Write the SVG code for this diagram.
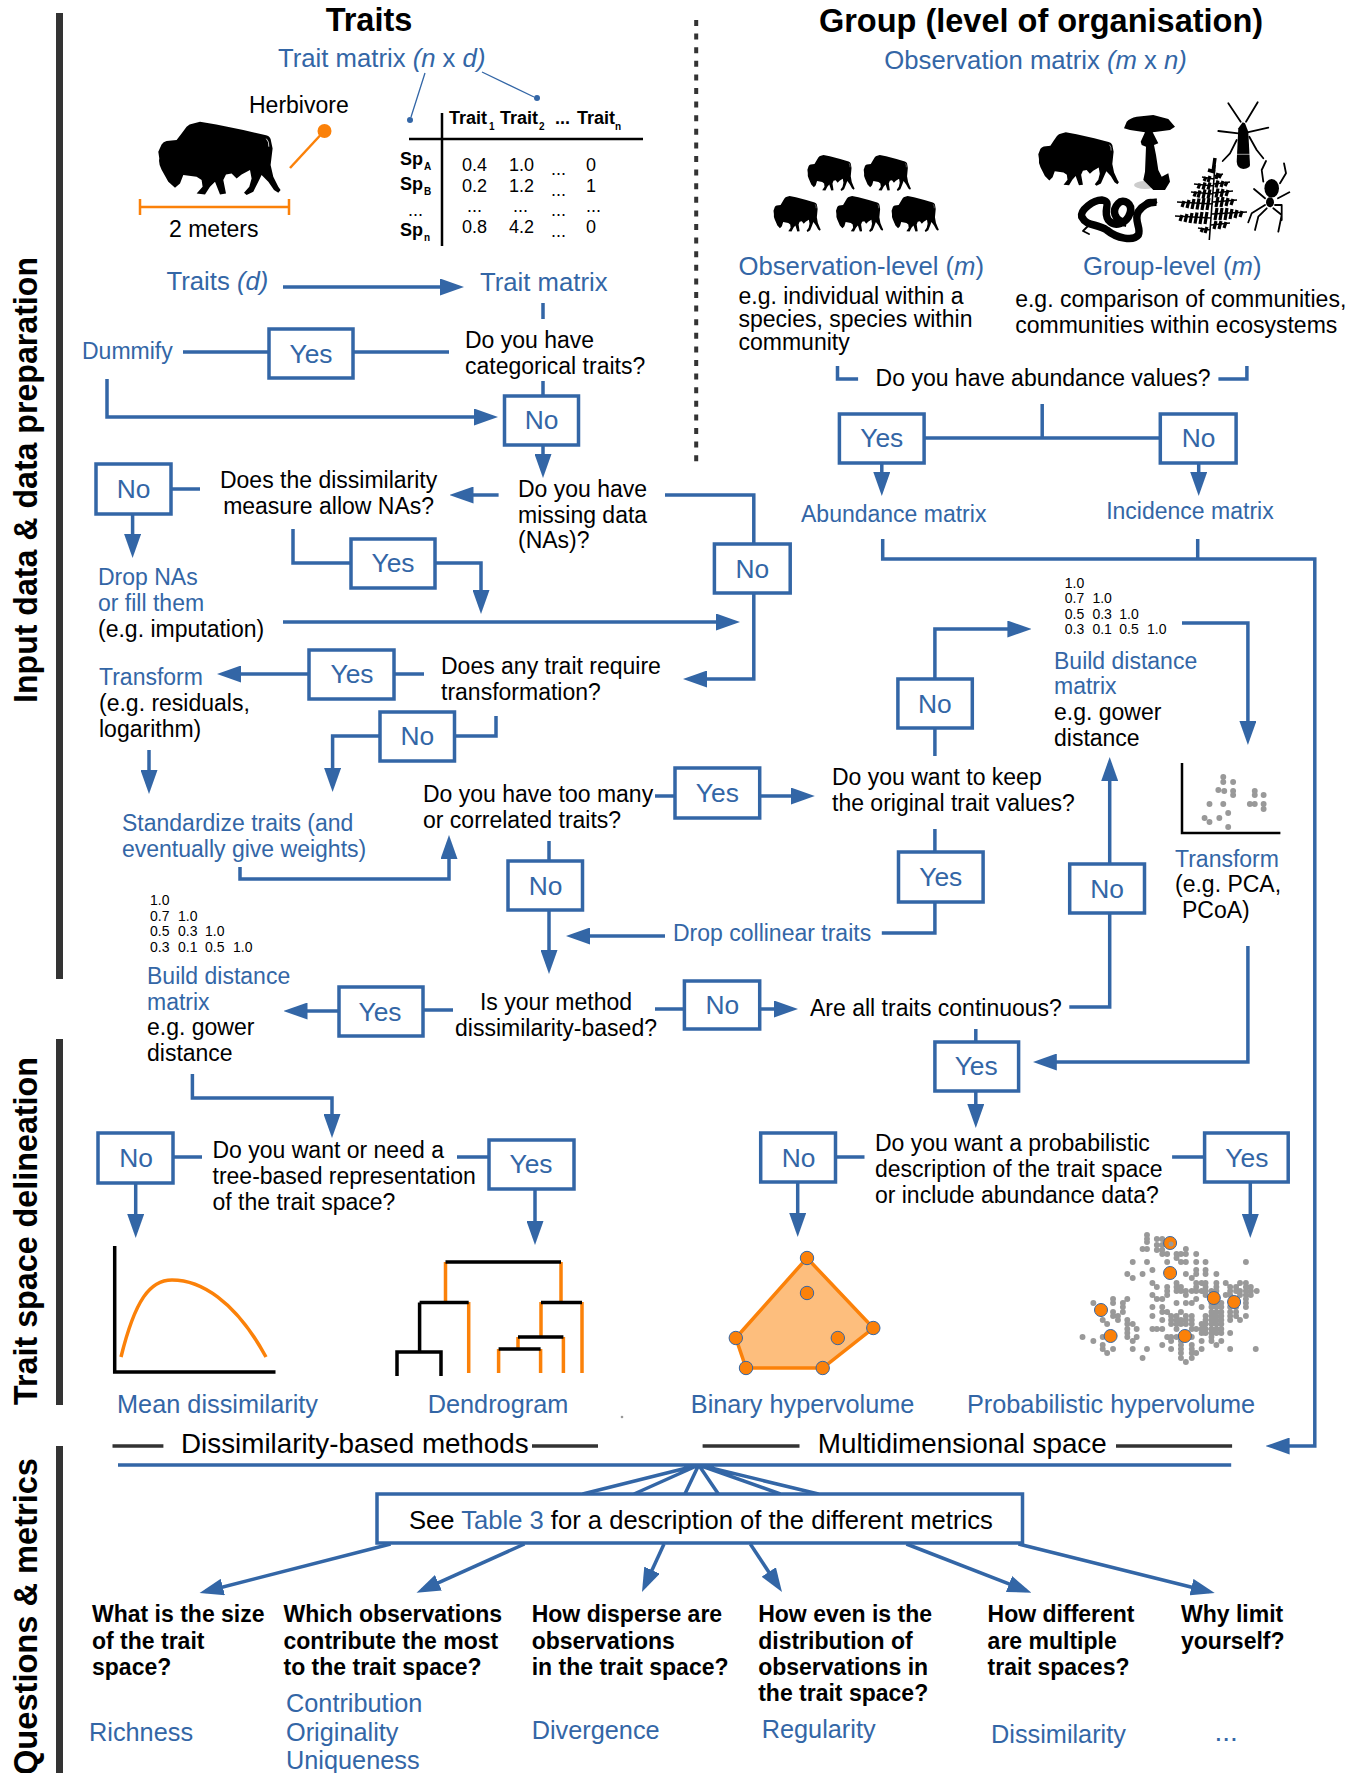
<svg xmlns="http://www.w3.org/2000/svg" width="1369" height="1773" viewBox="0 0 1369 1773">
<style>
text{font-family:"Liberation Sans",Arial,sans-serif;fill:#000}
.t{font-size:23px}
.f{font-size:23px;fill:#3366a6}
.h{font-size:25.7px;fill:#3366a6}
.s{font-size:25.3px}
.i{font-style:italic}
.q{font-size:23px;font-weight:700}
.title{font-size:32.5px;font-weight:700;text-anchor:middle}
.sec{font-size:34px;font-weight:700}
.m{font-size:27.8px}
.lb{font-size:26.4px;fill:#3366a6;text-anchor:middle}
.box{fill:#fff;stroke:#3366a6;stroke-width:3.5}
.c{fill:none;stroke:#3366a6;stroke-width:3.5}
.a{marker-end:url(#ah)}
.rule{fill:none;stroke:#333;stroke-width:3.5}
.bar{fill:#333}
.val{font-size:18px}
.sb{font-size:18px;font-weight:700}
.sub{font-size:10px;font-weight:700}
.mini{font-size:14px}
.or{fill:none;stroke:#fb8109;stroke-width:3.5}
.k{fill:none;stroke:#000;stroke-width:3.5}
.dot{fill:#fb8109;stroke:#3366a6;stroke-width:1}
.gray{fill:none;stroke:#999;stroke-width:6;stroke-linecap:round}
.leg{fill:none;stroke:#000;stroke-width:1.8;stroke-linecap:round;stroke-linejoin:round}
</style>
<defs>
<marker id="ah" markerUnits="userSpaceOnUse" markerWidth="24" markerHeight="17" viewBox="0 0 24 17" refX="18" refY="8.5" orient="auto"><path d="M0 0L24 8.5L0 17z" fill="#3366a6"/></marker>
<g id="bison">
<path d="M16.7 66L10 60L3.3 48Q0 42 1 36.7L0 30L3.3 22.7Q5 20 8.3 19.3L18.3 18.3L23.3 11.7L28.3 5Q31 2 35 1.7L41.7 0L58 2.7L85 8.3L106.7 13.3Q111 14 112.3 17.3L114.3 26.7L113.3 35L112.3 43.3L115 55L120 65L122.3 68.3L120 71L115.7 68.3L110 60L103.3 53.3L100 60L95 70L88.3 73.3L85.7 71L91 65L93.3 56.7L91.7 48.3L83.3 52.7L78.3 56.7L73.3 51.7L67.7 52.7L65 58.3L67.7 71.7L61.7 72.7L56.7 60L51.7 65L46.7 72.7L38.3 71.7L44.3 65L43.3 58.3L38.3 55L25 53.3L21.7 61.7z"/>
<path d="M108 17Q111 20 110.5 25" fill="none" stroke="#fff" stroke-width=".8"/>
</g>
</defs>

<g id="section-labels">
<rect class="bar" x="56" y="13" width="7" height="966"/>
<rect class="bar" x="56" y="1039" width="7" height="366"/>
<rect class="bar" x="56" y="1446" width="7" height="327"/>
<text class="sec" transform="translate(37 703) rotate(-90)" textLength="446" lengthAdjust="spacingAndGlyphs">Input data &amp; data preparation</text>
<text class="sec" transform="translate(37 1405) rotate(-90)" textLength="348" lengthAdjust="spacingAndGlyphs">Trait space delineation</text>
<text class="sec" transform="translate(37 1775) rotate(-90)" textLength="317" lengthAdjust="spacingAndGlyphs">Questions &amp; metrics</text>
</g>

<g id="connectors">
<path class="c a" d="M283 287H458"/>
<path class="c" d="M543 303V319M183 352H269M353 352H449M543 381V396"/>
<path class="c a" d="M107 379V417H492"/>
<path class="c a" d="M543 445V472"/>
<path class="c a" d="M498.6 495H455.5"/>
<path class="c" d="M171 489H200"/>
<path class="c a" d="M132.6 514V552"/>
<path class="c" d="M665 495H753.8V544"/>
<path class="c a" d="M753.8 593V679H689"/>
<path class="c" d="M293 529V563H351"/>
<path class="c a" d="M435 563H481V608"/>
<path class="c a" d="M283 622H734"/>
<path class="c a" d="M309 674H223"/>
<path class="c" d="M394 674H424M496 716V736H454.5"/>
<path class="c a" d="M380 736H332.6V786"/>
<path class="c a" d="M149 750V788"/>
<path class="c a" d="M240 867V879H449V841"/>
<path class="c" d="M549 841V861"/>
<path class="c a" d="M549 910V968"/>
<path class="c" d="M655 796H675"/>
<path class="c a" d="M759.7 796H808.8"/>
<path class="c a" d="M665 936H572"/>
<path class="c" d="M881.8 933H934.9V902M934.9 829V852M423 1010H453"/>
<path class="c a" d="M339 1011H289.5"/>
<path class="c" d="M655 1009H684.4"/>
<path class="c a" d="M759.7 1009H792"/>
<path class="c" d="M1069.3 1007H1109.7V913"/>
<path class="c a" d="M1109.7 864V763"/>
<path class="c" d="M934.9 728V756"/>
<path class="c a" d="M934.9 679V629H1025.4"/>
<path class="c a" d="M1182 623H1247.9V739"/>
<path class="c a" d="M1247.9 946V1062H1038.8"/>
<path class="c" d="M975.8 1029V1042"/>
<path class="c a" d="M975.8 1091V1122"/>
<path class="c" d="M837.5 366V379H858.1M1218.4 379H1246.9V366M1042.2 404V438M924.1 438H1160.3"/>
<path class="c a" d="M881.8 463V490"/>
<path class="c a" d="M1198.7 463V490"/>
<path class="c a" d="M882.7 539V559H1314.8V1446H1271.6"/>
<path class="c" d="M1197.7 539V559"/>
<path class="c a" d="M192.4 1074V1098H332V1132"/>
<path class="c" d="M173 1157H202M457 1157H489"/>
<path class="c a" d="M135.7 1183V1232"/>
<path class="c a" d="M535 1189V1239"/>
<path class="c" d="M835.5 1157H864.5M1172.1 1157H1204.6"/>
<path class="c a" d="M797.7 1182V1231"/>
<path class="c a" d="M1250.3 1182V1232"/>
<path class="c" d="M118 1465H1231.2M698.7 1465L582.6 1494M698.7 1465L634 1494M698.7 1465L684.9 1494M698.7 1465L718.4 1494M698.7 1465L780.4 1494M698.7 1465L818.4 1494"/>
<path class="c a" d="M390.6 1544L205.4 1591.5"/>
<path class="c a" d="M524.5 1544L422 1590.2"/>
<path class="c a" d="M664 1544L644.5 1586.5"/>
<path class="c a" d="M750.3 1544L778.7 1587"/>
<path class="c a" d="M906.4 1544L1025.8 1590.5"/>
<path class="c a" d="M1018.4 1544L1208.9 1591.5"/>
</g>

<g id="divider"><path d="M696.2 20V463" fill="none" stroke="#333" stroke-width="4" stroke-dasharray="6 7.6"/></g>

<g id="title-traits"><text class="title" x="369" y="31">Traits</text></g>
<g id="title-group"><text class="title" x="1041" y="32">Group (level of organisation)</text></g>
<g id="trait-matrix-title">
<text class="h" x="278" y="67">Trait matrix <tspan class="i">(n</tspan> x <tspan class="i">d)</tspan></text>
<path d="M425 73L411 117M482 72L534 97" fill="none" stroke="#3366a6" stroke-width="1.3"/>
<circle cx="410" cy="120" r="3" fill="#3366a6"/><circle cx="537" cy="98" r="3" fill="#3366a6"/>
</g>
<g id="observation-matrix-title"><text class="h" x="884.3" y="69">Observation matrix <tspan class="i">(m</tspan> x <tspan class="i">n)</tspan></text></g>

<g id="herbivore">
<use href="#bison" transform="translate(158.3 121.7)"/>
<text class="t" x="249" y="113">Herbivore</text>
<path d="M290 168L320.5 135" fill="none" stroke="#fb8109" stroke-width="2.5"/>
<circle cx="324.5" cy="131" r="7" fill="#fb8109"/>
<path d="M140 207H289M140 199V215M289 199V215" fill="none" stroke="#fb8109" stroke-width="2.5"/>
<text class="t" x="169" y="237">2 meters</text>
</g>

<g id="trait-table">
<path d="M442 113V246M409 139H643" fill="none" stroke="#000" stroke-width="2.5"/>
<text class="sb" x="449" y="124">Trait</text><text class="sub" x="489" y="130">1</text>
<text class="sb" x="500" y="124">Trait</text><text class="sub" x="539" y="130">2</text>
<text class="sb" x="555" y="124">...</text>
<text class="sb" x="577" y="124">Trait</text><text class="sub" x="615" y="130">n</text>
<text class="sb" x="400" y="165">Sp</text><text class="sub" x="424" y="170">A</text>
<text class="sb" x="400" y="190">Sp</text><text class="sub" x="424" y="195">B</text>
<text class="val" x="408" y="216">...</text>
<text class="sb" x="400" y="236">Sp</text><text class="sub" x="424" y="241">n</text>
<text class="val" x="462" y="171">0.4</text><text class="val" x="509" y="171">1.0</text><text class="val" x="551" y="175">...</text><text class="val" x="586" y="171">0</text>
<text class="val" x="462" y="192">0.2</text><text class="val" x="509" y="192">1.2</text><text class="val" x="551" y="196">...</text><text class="val" x="586" y="192">1</text>
<text class="val" x="467" y="212">...</text><text class="val" x="513" y="212">...</text><text class="val" x="551" y="216">...</text><text class="val" x="586" y="212">...</text>
<text class="val" x="462" y="233">0.8</text><text class="val" x="509" y="233">4.2</text><text class="val" x="551" y="237">...</text><text class="val" x="586" y="233">0</text>
</g>

<g id="bison-herd">
<use href="#bison" transform="translate(807.4 155) scale(.386 .49)"/>
<use href="#bison" transform="translate(863.7 155) scale(.386 .49)"/>
<use href="#bison" transform="translate(773.5 196) scale(.386 .49)"/>
<use href="#bison" transform="translate(836 196) scale(.386 .49)"/>
<use href="#bison" transform="translate(891.6 196) scale(.386 .49)"/>
</g>

<g id="species-group">
<use href="#bison" transform="translate(1038.3 132.3) scale(.659 .73)"/>
<g id="mushroom">
<ellipse cx="1145" cy="185" rx="11" ry="4" fill="#ccc"/>
<path d="M1124 128.3L1126.7 121.7Q1130 118 1136.7 116.7L1153.3 115L1168.3 119L1175 126.7L1170 130L1156.7 131.7L1152.7 132.3L1158.3 143.3L1154 145L1156 155L1158.3 170L1161.7 176.7L1168.3 173.3L1170 181.7L1165 190L1153.3 190L1143.3 180L1145 171.7L1146 146.7L1141.7 145L1140.7 141.7L1145 132.3L1130 130z"/>
</g>
<g id="insect">
<path d="M1242.7 122.3L1238.3 128.3L1236.7 161.7Q1237 168 1243.3 169Q1250 168 1250 165L1248.3 131.7L1245 123.3z"/>
<path d="M1237 154.3H1250" stroke="#fff" stroke-width=".6"/>
<path class="leg" d="M1240.7 121.7L1228.3 103.3M1246 121.7L1257.7 102.3M1238.3 133.3L1218.3 131M1247.3 132.3L1268.3 127.7M1236.7 140L1230 153.3L1222.7 161M1249.3 136.7L1256.7 150L1263.3 158.3"/>
</g>
<g id="fern" fill="none" stroke="#000">
<path stroke-width="1.6" d="M1215 165L1209.3 240M1213 204L1177 202M1211 218L1175 216M1213 194L1191 192M1214 186L1194 184M1214 179L1202 177M1210 230L1198 228M1213 202L1237 200M1212 214L1247 212M1213 193L1233 191M1214 184L1230 182M1214 176L1223 174M1211 225L1230 223"/>
<path stroke-width="3.5" d="M1215 158L1213 172M1215 172L1208 170"/>
<path stroke-width="3.2" d="M1209 198L1207 210M1204 198L1202 210M1199 198.5L1197 209.5M1194 199L1192 209M1189 200L1187 208M1184 201L1182 207M1207 212L1205 224M1202 212L1200 224M1197 212.5L1195 223.5M1192 213L1190 223M1187 214L1185 222M1182 215L1180 221M1210 189.5L1208 198.5M1205 189.5L1203 198.5M1200 190.5L1198 197.5M1196 191.5L1194 196.5M1210 182.5L1208 189.5M1205 182.5L1203 189.5M1200 183.5L1198 188.5M1210 176L1208 182M1206 177L1204 181M1207 227L1205 233M1203 228L1201 232M1218 197L1216 207M1223 197L1221 207M1228 198L1226 206M1233 199L1231 205M1217 208L1215 220M1222 208L1220 220M1227 208L1225 220M1232 209L1230 219M1237 210L1235 218M1242 211L1240 217M1218 188.5L1216 197.5M1223 189L1221 197M1228 190L1226 196M1218 180.5L1216 187.5M1223 181L1221 187M1227 182L1225 186M1218 173L1216 179M1221 174L1219 178M1216 221L1214 229M1221 221L1219 229M1226 222L1224 228"/>
</g>
<g id="snake">
<path fill="none" stroke="#000" stroke-width="7.5" d="M1156.7 202.3C1146.7 201.7 1141.7 206.7 1138.3 211.7C1133.3 220 1141.7 228.3 1138.3 235C1133.3 241.7 1116.7 238.3 1106.7 230C1096.7 223.3 1086.7 226.7 1081.7 216.7C1080 210 1093.3 200 1101.7 200C1113.3 201.7 1101.7 210 1108.3 220C1115 228.3 1126.7 223.3 1130 213.3C1133.3 203.3 1123.3 198.3 1118.3 203.3C1111.7 210 1113.3 220 1126.7 223.3"/>
<ellipse cx="1150.7" cy="202.3" rx="6.5" ry="3.5"/>
<path class="leg" d="M1088 226L1083 231L1089 234"/>
</g>
<g id="spider">
<ellipse cx="1271.7" cy="188.3" rx="7.3" ry="9.3"/><ellipse cx="1270" cy="202.3" rx="4" ry="5"/>
<path class="leg" d="M1263.3 181.7L1261.7 170L1266 161M1280 183.3L1286 173.3L1284 163.3M1265 198.3L1254 189M1278 198.3L1289.3 192.3M1265 205L1251.7 213.3L1248.3 222.3M1266.7 208.3L1258.3 216.7L1255 230M1273.3 208.3L1281.7 215L1278.3 231.7M1275 205L1281.7 205L1281.7 220"/>
</g>
</g>

<g id="observation-level">
<text class="h" x="738.5" y="275">Observation-level (<tspan class="i">m</tspan>)</text>
<text class="t" x="738.5" y="304">e.g. individual within a</text>
<text class="t" x="738.5" y="327">species, species within</text>
<text class="t" x="738.5" y="350">community</text>
</g>
<g id="group-level">
<text class="h" x="1083" y="275">Group-level (<tspan class="i">m</tspan>)</text>
<text class="t" x="1015.2" y="307">e.g. comparison of communities,</text>
<text class="t" x="1015.2" y="333">communities within ecosystems</text>
</g>
<g id="q-abundance"><text class="t" x="875.6" y="386">Do you have abundance values?</text></g>

<g id="traits-d"><text class="h" x="166.5" y="290">Traits <tspan class="i">(d)</tspan></text></g>
<g id="trait-matrix"><text class="h" x="480" y="291">Trait matrix</text></g>
<g id="dummify"><text class="f" x="82" y="359">Dummify</text></g>
<g id="q-categorical"><text class="t" x="465" y="348">Do you have</text><text class="t" x="465" y="374">categorical traits?</text></g>
<g id="q-nas"><text class="t" x="328.6" y="488" text-anchor="middle">Does the dissimilarity</text><text class="t" x="328.6" y="514" text-anchor="middle">measure allow NAs?</text></g>
<g id="q-missing"><text class="t" x="518" y="497">Do you have</text><text class="t" x="518" y="523">missing data</text><text class="t" x="518" y="548">(NAs)?</text></g>
<g id="drop-nas"><text class="f" x="98" y="585">Drop NAs</text><text class="f" x="98" y="611">or fill them</text><text class="t" x="98" y="637">(e.g. imputation)</text></g>
<g id="transform-left"><text class="f" x="99" y="685">Transform</text><text class="t" x="99" y="711">(e.g. residuals,</text><text class="t" x="99" y="737">logarithm)</text></g>
<g id="q-transformation"><text class="t" x="441" y="674">Does any trait require</text><text class="t" x="441" y="700">transformation?</text></g>
<g id="standardize"><text class="f" x="122" y="831">Standardize traits (and</text><text class="f" x="122" y="857">eventually give weights)</text></g>
<g id="q-too-many"><text class="t" x="423" y="802">Do you have too many</text><text class="t" x="423" y="828">or correlated traits?</text></g>
<g id="q-keep"><text class="t" x="832" y="785">Do you want to keep</text><text class="t" x="832" y="811">the original trait values?</text></g>
<g id="drop-collinear"><text class="f" x="673" y="941">Drop collinear traits</text></g>
<g id="build-left">
<text class="mini" x="150" y="905">1.0</text>
<text class="mini" y="921"><tspan x="150">0.7</tspan><tspan x="178">1.0</tspan></text>
<text class="mini" y="936"><tspan x="150">0.5</tspan><tspan x="178">0.3</tspan><tspan x="205">1.0</tspan></text>
<text class="mini" y="952"><tspan x="150">0.3</tspan><tspan x="178">0.1</tspan><tspan x="205">0.5</tspan><tspan x="233">1.0</tspan></text>
<text class="f" x="147" y="984">Build distance</text><text class="f" x="147" y="1010">matrix</text>
<text class="t" x="147" y="1035">e.g. gower</text><text class="t" x="147" y="1061">distance</text>
</g>
<g id="build-right">
<text class="mini" x="1064.8" y="588">1.0</text>
<text class="mini" y="603"><tspan x="1064.8">0.7</tspan><tspan x="1092.4">1.0</tspan></text>
<text class="mini" y="619"><tspan x="1064.8">0.5</tspan><tspan x="1092.4">0.3</tspan><tspan x="1119.3">1.0</tspan></text>
<text class="mini" y="634"><tspan x="1064.8">0.3</tspan><tspan x="1092.4">0.1</tspan><tspan x="1119.3">0.5</tspan><tspan x="1147">1.0</tspan></text>
<text class="f" x="1054" y="669">Build distance</text><text class="f" x="1054" y="694">matrix</text>
<text class="t" x="1054" y="720">e.g. gower</text><text class="t" x="1054" y="746">distance</text>
</g>
<g id="transform-right">
<path d="M1182 763V833H1280.4" fill="none" stroke="#000" stroke-width="2.5"/>
<path class="gray" transform="translate(10.74 0) scale(.9842 1)" d="M1232 777h0M1232 782h0M1242 782h0M1227 790h0M1233 791h0M1242 791h0M1242 795h0M1264 791h0M1264 795h0M1273 795h0M1218 804h0M1232 804h0M1259 804h0M1264 804h0M1273 804h0M1273 809h0M1213 818h0M1218 822h0M1228 818h0M1237 813h0M1237 827h0"/>
<text class="f" x="1175" y="867">Transform</text><text class="t" x="1175" y="892">(e.g. PCA,</text><text class="t" x="1182" y="918">PCoA)</text>
</g>
<g id="q-dissimilarity"><text class="t" x="556" y="1010" text-anchor="middle">Is your method</text><text class="t" x="556" y="1036" text-anchor="middle">dissimilarity-based?</text></g>
<g id="q-continuous"><text class="t" x="810" y="1016">Are all traits continuous?</text></g>
<g id="q-tree"><text class="t" x="212.5" y="1158">Do you want or need a</text><text class="t" x="212.5" y="1184">tree-based representation</text><text class="t" x="212.5" y="1210">of the trait space?</text></g>
<g id="q-probabilistic"><text class="t" x="874.9" y="1151">Do you want a probabilistic</text><text class="t" x="874.9" y="1177">description of the trait space</text><text class="t" x="874.9" y="1203">or include abundance data?</text></g>
<g id="abundance-matrix"><text class="f" x="801" y="522">Abundance matrix</text></g>
<g id="incidence-matrix"><text class="f" x="1106.2" y="519">Incidence matrix</text></g>

<g id="yes-categorical"><rect class="box" x="269" y="329" width="84" height="49"/><text class="lb" x="311" y="363">Yes</text></g>
<g id="no-categorical"><rect class="box" x="504.5" y="396" width="74" height="49"/><text class="lb" x="541.5" y="429">No</text></g>
<g id="no-nas"><rect class="box" x="96" y="464" width="75" height="50"/><text class="lb" x="133.5" y="498">No</text></g>
<g id="yes-nas"><rect class="box" x="351" y="539" width="84" height="49"/><text class="lb" x="393" y="572">Yes</text></g>
<g id="no-missing"><rect class="box" x="714.4" y="544" width="75.8" height="49"/><text class="lb" x="752.4" y="578">No</text></g>
<g id="yes-transform"><rect class="box" x="309" y="650" width="85" height="49"/><text class="lb" x="352" y="683">Yes</text></g>
<g id="no-transform"><rect class="box" x="380" y="712" width="74.5" height="49"/><text class="lb" x="417.4" y="745">No</text></g>
<g id="yes-too-many"><rect class="box" x="675" y="768" width="84.7" height="50"/><text class="lb" x="717.4" y="802">Yes</text></g>
<g id="no-too-many"><rect class="box" x="508" y="861" width="74.5" height="49"/><text class="lb" x="545.5" y="895">No</text></g>
<g id="yes-dissimilarity"><rect class="box" x="339" y="987" width="84" height="49"/><text class="lb" x="380" y="1021">Yes</text></g>
<g id="no-dissimilarity"><rect class="box" x="684.4" y="981" width="75.3" height="48"/><text class="lb" x="722.3" y="1014">No</text></g>
<g id="yes-keep"><rect class="box" x="898.5" y="852" width="84.6" height="50"/><text class="lb" x="940.8" y="886">Yes</text></g>
<g id="no-keep"><rect class="box" x="897.9" y="679" width="74.4" height="49"/><text class="lb" x="934.9" y="713">No</text></g>
<g id="no-continuous"><rect class="box" x="1069.7" y="864" width="74.8" height="49"/><text class="lb" x="1107" y="898">No</text></g>
<g id="yes-continuous"><rect class="box" x="934.9" y="1042" width="83.7" height="49"/><text class="lb" x="976.2" y="1075">Yes</text></g>
<g id="yes-abundance"><rect class="box" x="839.4" y="414" width="84.7" height="49"/><text class="lb" x="881.8" y="447">Yes</text></g>
<g id="no-abundance"><rect class="box" x="1160.3" y="414" width="75.8" height="49"/><text class="lb" x="1198.7" y="447">No</text></g>
<g id="no-tree"><rect class="box" x="98" y="1133" width="75" height="50"/><text class="lb" x="136" y="1167">No</text></g>
<g id="yes-tree"><rect class="box" x="489" y="1140" width="85" height="49"/><text class="lb" x="531" y="1173">Yes</text></g>
<g id="no-prob"><rect class="box" x="760.7" y="1133" width="74.8" height="49"/><text class="lb" x="798.6" y="1167">No</text></g>
<g id="yes-prob"><rect class="box" x="1204.6" y="1133" width="83.6" height="49"/><text class="lb" x="1246.9" y="1167">Yes</text></g>

<g id="mean-dissimilarity">
<path class="k" d="M114.7 1246V1372H275.5"/>
<path class="or" d="M121 1357C135 1300 150 1280 172 1280C200 1280 235 1300 266 1357"/>
<text class="h s" x="117" y="1413">Mean dissimilarity</text>
</g>
<g id="dendrogram">
<path class="or" d="M445.5 1262V1302M561 1262V1302M468.7 1302V1373M541 1302V1337M582 1302V1373M518 1337V1349M563.4 1337V1373M498.6 1349V1373M540.6 1349V1373"/>
<path class="k" d="M445.5 1262H561M419.6 1302.5H468.7M419.6 1302.5V1352M397 1376V1352H441V1376M541 1302.5H582M518 1337H563.4M498.6 1349H540.6"/>
<text class="h s" x="427.7" y="1413">Dendrogram</text>
</g>
<g id="binary-hypervolume">
<path d="M807 1258L873.3 1328L822.7 1368H746L735.8 1338z" fill="#fdbe7d" stroke="#fb8109" stroke-width="3.5"/>
<circle class="dot" cx="807" cy="1258" r="6.7"/><circle class="dot" cx="807" cy="1293" r="6.7"/><circle class="dot" cx="873.3" cy="1328" r="6.7"/><circle class="dot" cx="837.8" cy="1338" r="6.7"/><circle class="dot" cx="735.8" cy="1338" r="6.7"/><circle class="dot" cx="746" cy="1368" r="6.7"/><circle class="dot" cx="822.7" cy="1368" r="6.7"/>
<text class="h s" x="690.8" y="1413">Binary hypervolume</text>
</g>
<g id="probabilistic-hypervolume">
<path class="gray" transform="translate(10.74 0) scale(.9842 1)" d="M1154.5 1235h0M1154.5 1239h0M1164.5 1239h0M1170 1239h0M1154.5 1242h0M1164.5 1245h0M1170 1245h0M1150 1249h0M1154.5 1249h0M1194 1249h0M1164.5 1250h0M1170 1250h0M1170 1254h0M1175 1254h0M1184.5 1254h0M1189 1254h0M1194 1254h0M1204.5 1254h0M1184.5 1258h0M1140 1262h0M1154.5 1262h0M1175 1262h0M1189 1262h0M1194 1262h0M1204.5 1262h0M1214 1262h0M1255 1262h0M1160 1270h0M1204.5 1270h0M1214 1270h0M1150 1274h0M1134.5 1274h0M1194 1274h0M1204.5 1274h0M1214 1274h0M1225 1274h0M1140 1278h0M1200 1278h0M1160 1283h0M1184.5 1283h0M1204.5 1283h0M1210 1283h0M1214 1283h0M1225 1283h0M1234.5 1283h0M1249 1283h0M1255 1283h0M1164.5 1287h0M1175 1287h0M1184.5 1287h0M1189 1287h0M1204.5 1287h0M1214 1287h0M1225 1287h0M1239 1287h0M1245 1287h0M1255 1287h0M1260 1287h0M1175 1291h0M1184.5 1291h0M1189 1291h0M1194 1291h0M1200 1291h0M1204.5 1291h0M1210 1291h0M1214 1291h0M1220 1291h0M1225 1291h0M1239 1291h0M1245 1291h0M1249 1291h0M1255 1291h0M1260 1291h0M1266 1291h0M1160 1295h0M1175 1295h0M1194 1295h0M1214 1295h0M1225 1295h0M1234.5 1295h0M1239 1295h0M1249 1295h0M1255 1295h0M1260 1295h0M1164.5 1299h0M1170 1299h0M1204.5 1299h0M1245 1299h0M1255 1299h0M1120 1299h0M1134.5 1299h0M1184.5 1303h0M1194 1303h0M1200 1303h0M1220 1303h0M1225 1303h0M1230 1303h0M1245 1303h0M1255 1303h0M1100 1303h0M1120 1303h0M1130 1303h0M1160 1307h0M1170 1307h0M1210 1307h0M1220 1307h0M1225 1307h0M1230 1307h0M1239 1307h0M1245 1307h0M1255 1307h0M1130 1307h0M1170 1312h0M1175 1312h0M1189 1312h0M1220 1312h0M1225 1312h0M1230 1312h0M1239 1312h0M1245 1312h0M1120 1312h0M1130 1312h0M1160 1316h0M1179 1316h0M1184.5 1316h0M1194 1316h0M1200 1316h0M1214 1316h0M1220 1316h0M1225 1316h0M1230 1316h0M1239 1316h0M1245 1316h0M1255 1316h0M1125 1316h0M1120 1316h0M1170 1320h0M1179 1320h0M1184.5 1320h0M1189 1320h0M1194 1320h0M1200 1320h0M1214 1320h0M1220 1320h0M1225 1320h0M1230 1320h0M1239 1320h0M1249 1320h0M1109.5 1320h0M1134.5 1320h0M1125 1320h0M1179 1324h0M1184.5 1324h0M1189 1324h0M1194 1324h0M1200 1324h0M1210 1324h0M1214 1324h0M1220 1324h0M1225 1324h0M1230 1324h0M1114 1324h0M1134.5 1324h0M1140 1324h0M1160 1329h0M1164.5 1329h0M1170 1329h0M1184.5 1329h0M1200 1329h0M1204.5 1329h0M1210 1329h0M1214 1329h0M1220 1329h0M1225 1329h0M1230 1329h0M1134.5 1329h0M1144 1329h0M1194 1333h0M1210 1333h0M1214 1333h0M1220 1333h0M1225 1333h0M1230 1333h0M1239 1333h0M1134.5 1333h0M1175 1337h0M1179 1337h0M1184.5 1337h0M1194 1337h0M1200 1337h0M1220 1337h0M1089 1337h0M1109.5 1337h0M1134.5 1337h0M1144 1337h0M1179 1341h0M1189 1341h0M1210 1341h0M1220 1341h0M1230 1341h0M1100 1341h0M1140 1341h0M1170 1345h0M1189 1345h0M1200 1345h0M1225 1345h0M1109.5 1345h0M1179 1349h0M1189 1349h0M1200 1349h0M1210 1349h0M1140 1349h0M1154.5 1349h0M1239 1349h0M1265 1349h0M1109.5 1349h0M1120 1349h0M1189 1353h0M1200 1353h0M1204.5 1353h0M1114 1353h0M1150 1358h0M1189 1358h0M1200 1358h0M1194 1362h0"/>
<circle class="dot" cx="1170.1" cy="1243" r="6.5"/><circle class="dot" cx="1170.1" cy="1273" r="6.5"/><circle class="dot" cx="1213.8" cy="1298" r="6.5"/><circle class="dot" cx="1234.1" cy="1302" r="6.5"/><circle class="dot" cx="1101" cy="1310" r="6.5"/><circle class="dot" cx="1110.6" cy="1336" r="6.5"/><circle class="dot" cx="1184.9" cy="1336" r="6.5"/>
<circle cx="1171" cy="1244" r="2.5" fill="#999"/>
<text class="h s" x="966.9" y="1413">Probabilistic hypervolume</text>
</g>
<circle cx="622" cy="1417" r="1.3" fill="#999"/>

<g id="dissimilarity-methods">
<path class="rule" d="M112.5 1446H163.4M532 1446H598"/>
<text class="m" x="181" y="1453">Dissimilarity-based methods</text>
</g>
<g id="multidimensional-space">
<path class="rule" d="M702.6 1446H799.5M1116 1446H1232.1"/>
<text class="m" x="817.8" y="1453">Multidimensional space</text>
</g>
<g id="table-note">
<rect class="box" x="377" y="1494" width="645.5" height="49"/>
<text x="409" y="1529" font-size="25.6">See <tspan fill="#3366a6">Table 3</tspan> for a description of the different metrics</text>
</g>

<g id="q-size"><text class="q" x="92" y="1622">What is the size</text><text class="q" x="92" y="1648.5">of the trait</text><text class="q" x="92" y="1674.5">space?</text><text class="h s" x="89" y="1741">Richness</text></g>
<g id="q-contribute"><text class="q" x="283.5" y="1622">Which observations</text><text class="q" x="283.5" y="1648.5">contribute the most</text><text class="q" x="283.5" y="1674.5">to the trait space?</text><text class="h s" x="286" y="1712">Contribution</text><text class="h s" x="286" y="1741">Originality</text><text class="h s" x="286" y="1769">Uniqueness</text></g>
<g id="q-disperse"><text class="q" x="531.7" y="1622">How disperse are</text><text class="q" x="531.7" y="1648.5">observations</text><text class="q" x="531.7" y="1674.5">in the trait space?</text><text class="h s" x="531.7" y="1739">Divergence</text></g>
<g id="q-even"><text class="q" x="758.2" y="1622">How even is the</text><text class="q" x="758.2" y="1648.5">distribution of</text><text class="q" x="758.2" y="1674.5">observations in</text><text class="q" x="758.2" y="1700.5">the trait space?</text><text class="h s" x="761.7" y="1738">Regularity</text></g>
<g id="q-different"><text class="q" x="987.6" y="1622">How different</text><text class="q" x="987.6" y="1648.5">are multiple</text><text class="q" x="987.6" y="1674.5">trait spaces?</text><text class="h s" x="991" y="1743">Dissimilarity</text></g>
<g id="q-why"><text class="q" x="1181" y="1622">Why limit</text><text class="q" x="1181" y="1648.5">yourself?</text><text class="h" x="1214.4" y="1741" style="font-size:28px">...</text></g>
</svg>
